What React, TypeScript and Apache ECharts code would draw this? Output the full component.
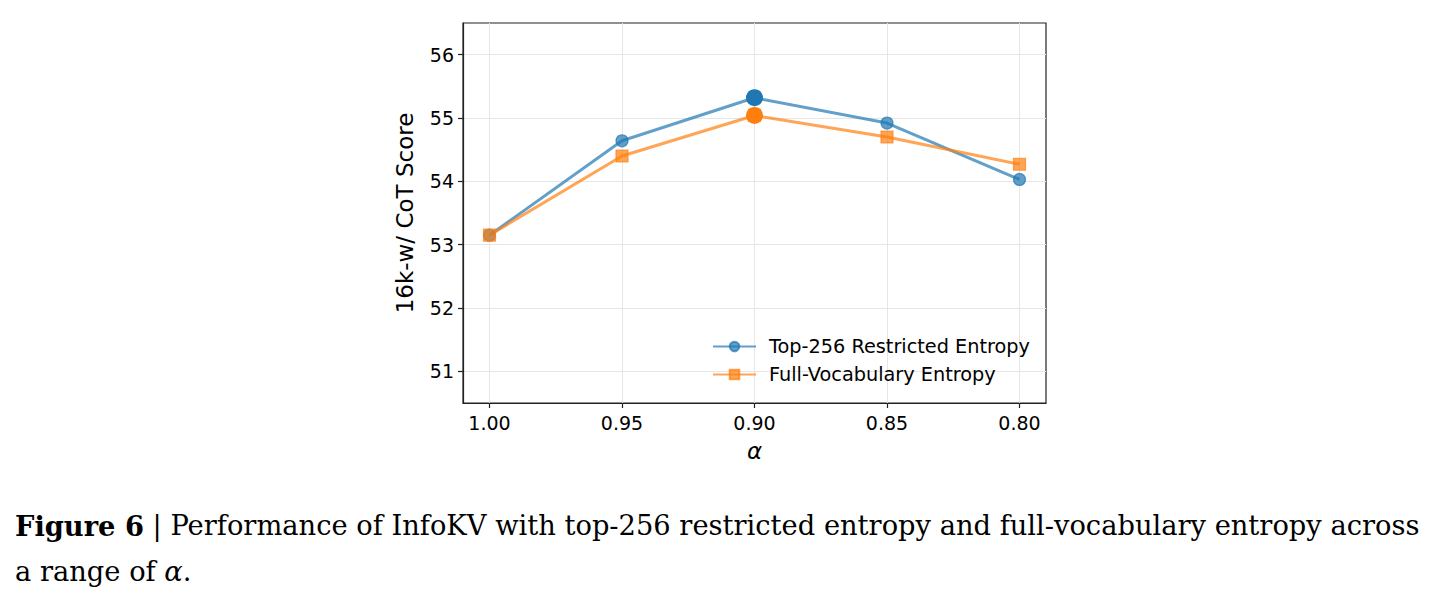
import React, { useEffect, useRef } from "react";
import * as echarts from "echarts";

// α values along the x axis (shown from 1.00 down to 0.80)
const alphas = [1.0, 0.95, 0.9, 0.85, 0.8];
// 16k-w/ CoT scores per α
const top256Scores = [53.15, 54.64, 55.32, 54.92, 54.03];
const fullVocabScores = [53.15, 54.4, 55.04, 54.7, 54.27];
// y tick values
const yTicks = [51, 52, 53, 54, 55, 56];

const seriesNames = ["Top-256 Restricted Entropy", "Full-Vocabulary Entropy"];
const BLUE = "#1f77b4";
const ORANGE = "#ff7f0e";
const AXIS_FONT = "DejaVu Sans";
const CAPTION_FONT = "DejaVu Serif";
const CAPTION_SIZE = 27.3;

const toPoints = (vals: number[]) => alphas.map((a, i) => [a, vals[i]]);
const bestPoint = (vals: number[]) => {
  let k = 0;
  vals.forEach((v, i) => {
    if (v > vals[k]) k = i;
  });
  return [[alphas[k], vals[k]]];
};

export default function App() {
  const ref = useRef<HTMLDivElement>(null);

  useEffect(() => {
    document.body.style.margin = "0";
    if (!ref.current) return;
    const chart = echarts.init(ref.current, null, { renderer: "svg" });

    const lineSeries = (name: string, vals: number[], color: string, symbol: string) => ({
      name,
      type: "line",
      data: toPoints(vals),
      symbol,
      symbolSize: 12,
      lineStyle: { color, width: 3, opacity: 0.7 },
      itemStyle: { color, opacity: 0.7, borderColor: color, borderWidth: 1.2 },
      emphasis: { disabled: true },
      z: 3,
    });

    const bestSeries = (vals: number[], color: string) => ({
      type: "scatter",
      data: bestPoint(vals),
      symbol: "circle",
      symbolSize: 17,
      itemStyle: { color, opacity: 1 },
      emphasis: { disabled: true },
      z: 5,
    });

    chart.setOption({
      animation: false,
      grid: {
        left: 463,
        top: 23,
        width: 583,
        height: 380,
        show: true,
        borderColor: "#222",
        borderWidth: 1.2,
        backgroundColor: "transparent",
      },
      xAxis: {
        type: "value",
        inverse: true,
        min: 0.79,
        max: 1.01,
        name: "α",
        nameLocation: "middle",
        nameGap: 36,
        nameTextStyle: { fontFamily: AXIS_FONT, fontSize: 23, fontStyle: "italic", color: "#000" },
        axisLine: { show: true, onZero: false, lineStyle: { color: "#222", width: 1.2 } },
        axisTick: { show: true, length: 5, customValues: alphas, lineStyle: { color: "#222", width: 1.2 } },
        axisLabel: {
          customValues: alphas,
          formatter: (v: number) => v.toFixed(2),
          fontFamily: AXIS_FONT,
          fontSize: 19,
          color: "#000",
          margin: 10,
        },
        splitLine: { show: true, lineStyle: { color: "#e6e6e6", width: 1 } },
      },
      yAxis: {
        type: "value",
        min: 50.5,
        max: 56.5,
        name: "16k-w/ CoT Score",
        nameLocation: "middle",
        nameRotate: 90,
        nameGap: 47,
        nameTextStyle: { fontFamily: AXIS_FONT, fontSize: 23, color: "#000" },
        axisLine: { show: true, onZero: false, lineStyle: { color: "#222", width: 1.2 } },
        axisTick: { show: true, length: 5, customValues: yTicks, lineStyle: { color: "#222", width: 1.2 } },
        axisLabel: {
          customValues: yTicks,
          formatter: (v: number) => String(v),
          fontFamily: AXIS_FONT,
          fontSize: 19,
          color: "#000",
          margin: 9,
        },
        splitLine: { show: true, lineStyle: { color: "#e6e6e6", width: 1 } },
      },
      legend: {
        data: seriesNames,
        orient: "vertical",
        left: 707,
        top: 332,
        itemWidth: 43,
        itemHeight: 12,
        itemGap: 9,
        textStyle: {
          fontFamily: AXIS_FONT,
          fontSize: 19.3,
          color: "#000",
          lineHeight: 19,
          padding: [0, 0, 0, 8],
        },
      },
      series: [
        lineSeries(seriesNames[0], top256Scores, BLUE, "circle"),
        lineSeries(seriesNames[1], fullVocabScores, ORANGE, "rect"),
        bestSeries(top256Scores, BLUE),
        bestSeries(fullVocabScores, ORANGE),
      ],
      graphic: [
        {
          type: "text",
          left: 15,
          top: 512,
          style: {
            text: "{b|Figure 6} | Performance of InfoKV with top-256 restricted entropy and full-vocabulary entropy across",
            font: `${CAPTION_SIZE}px '${CAPTION_FONT}'`,
            fill: "#000",
            rich: {
              b: { fontFamily: CAPTION_FONT, fontSize: CAPTION_SIZE, fontWeight: "bold", fill: "#000" },
            },
          },
        },
        {
          type: "text",
          left: 15,
          top: 558,
          style: {
            text: "a range of {i|α}.",
            font: `${CAPTION_SIZE}px '${CAPTION_FONT}'`,
            fill: "#000",
            rich: {
              i: { fontFamily: CAPTION_FONT, fontSize: CAPTION_SIZE, fontStyle: "italic", fill: "#000" },
            },
          },
        },
      ],
    });

    return () => chart.dispose();
  }, []);

  return <div ref={ref} style={{ width: 1442, height: 601 }} />;
}
